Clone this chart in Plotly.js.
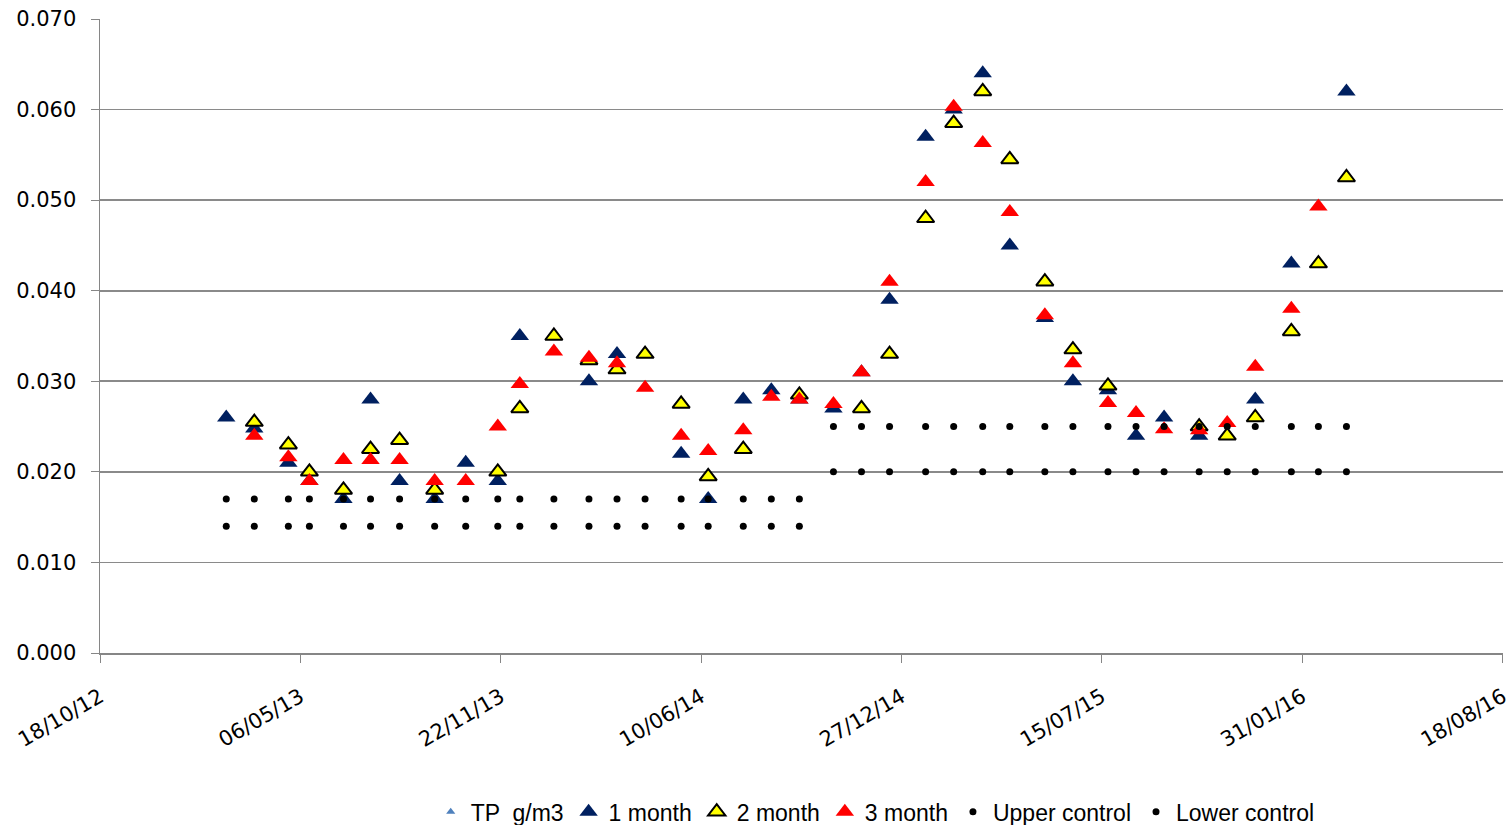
<!DOCTYPE html>
<html>
<head>
<meta charset="utf-8">
<script src="https://cdn.plot.ly/plotly-3.0.1.min.js"></script>
<style>html,body{margin:0;padding:0;background:#fff;}#chart{width:1509px;height:825px;}</style>
</head>
<body>
<div id="chart"></div>
<script>
const dates = ['2013-02-21','2013-03-21','2013-04-24','2013-05-15','2013-06-18','2013-07-15','2013-08-13','2013-09-17','2013-10-18','2013-11-19',
  '2013-12-11','2014-01-14','2014-02-18','2014-03-18','2014-04-15','2014-05-21','2014-06-17','2014-07-22','2014-08-19','2014-09-16',
  '2014-10-20','2014-11-17','2014-12-15','2015-01-20','2015-02-17','2015-03-18','2015-04-14','2015-05-19','2015-06-16','2015-07-21',
  '2015-08-18','2015-09-15','2015-10-20','2015-11-17','2015-12-15','2016-01-20','2016-02-16','2016-03-15'];
const tpDates = [dates[0]];
const tp = [null];
const month1 = [0.026,0.0248,0.021,0.019,0.017,0.028,0.019,0.017,0.021,0.019,
  0.035,0.035,0.030,0.033,0.033,0.022,0.017,0.028,0.029,0.028,
  0.027,0.031,0.039,0.057,0.060,0.064,0.045,0.037,0.030,0.029,
  0.024,0.026,0.024,0.024,0.028,0.043,0.043,0.062];
const month2 = [null,0.0255,0.023,0.020,0.018,0.0225,0.0235,0.018,null,0.020,
  0.027,0.035,0.0323,0.0313,0.033,0.0275,0.0195,0.0225,null,0.0285,
  null,0.027,0.033,0.048,0.0585,0.062,0.0545,0.041,0.0335,0.0295,
  null,null,0.025,0.024,0.026,0.0355,0.043,0.0525];
const month3 = [null,0.024,0.0216,0.019,0.0213,0.0213,0.0213,0.019,0.019,0.025,
  0.0297,0.0333,0.0326,0.032,0.0293,0.024,0.0223,0.0246,0.0283,0.028,
  0.0275,0.031,0.041,0.052,0.0603,0.0563,0.0487,0.0373,0.032,0.0276,
  0.0265,0.0247,0.0246,0.0254,0.0316,0.038,0.0493,null];
const upperControl = [0.017,0.017,0.017,0.017,0.017,0.017,0.017,0.017,0.017,0.017,
  0.017,0.017,0.017,0.017,0.017,0.017,0.017,0.017,0.017,0.017,
  0.025,0.025,0.025,0.025,0.025,0.025,0.025,0.025,0.025,0.025,
  0.025,0.025,0.025,0.025,0.025,0.025,0.025,0.025];
const lowerControl = [0.014,0.014,0.014,0.014,0.014,0.014,0.014,0.014,0.014,0.014,
  0.014,0.014,0.014,0.014,0.014,0.014,0.014,0.014,0.014,0.014,
  0.020,0.020,0.020,0.020,0.020,0.020,0.020,0.020,0.020,0.020,
  0.020,0.020,0.020,0.020,0.020,0.020,0.020,0.020];
const yTicks = [0,0.01,0.02,0.03,0.04,0.05,0.06,0.07];

const traces = [
  {name:'TP  g/m3', x:tpDates, y:tp, type:'scatter', mode:'markers',
   marker:{symbol:'triangle-up', size:8, color:'#4F81BD'}},
  {name:'1 month', x:dates, y:month1, type:'scatter', mode:'markers',
   marker:{symbol:'triangle-up', size:16, color:'#002060'}},
  {name:'2 month', x:dates, y:month2, type:'scatter', mode:'markers',
   marker:{symbol:'triangle-up', size:15, color:'#FFFF00', line:{color:'#000', width:2}}},
  {name:'3 month', x:dates, y:month3, type:'scatter', mode:'markers',
   marker:{symbol:'triangle-up', size:16, color:'#FF0000'}},
  {name:'Upper control', x:dates, y:upperControl, type:'scatter', mode:'markers',
   marker:{symbol:'circle', size:7, color:'#000'}},
  {name:'Lower control', x:dates, y:lowerControl, type:'scatter', mode:'markers',
   marker:{symbol:'circle', size:7, color:'#000'}}
];

const layout = {
  width:1509, height:825,
  margin:{l:100, r:6, t:19, b:172, autoexpand:false},
  paper_bgcolor:'#fff', plot_bgcolor:'#fff',
  font:{family:'DejaVu Sans, sans-serif', size:20, color:'#000'},
  showlegend:true,
  legend:{orientation:'h', xref:'container', yref:'container', x:0.58, xanchor:'center', y:0.016, yanchor:'middle',
    font:{family:'Liberation Sans Narrow, Liberation Sans, sans-serif', size:23, color:'#000'},
    itemwidth:30, traceorder:'normal', bgcolor:'rgba(0,0,0,0)'},
  xaxis:{type:'date', range:['2012-10-18','2016-08-18 06:00'], tick0:'2012-10-18', dtick:200*86400000,
    tickformat:'%d/%m/%y', tickangle:-30, showgrid:false, zeroline:false, automargin:false,
    ticklabeloverflow:'allow',
    showline:true, linecolor:'#868686', linewidth:1.5, ticks:'outside', ticklen:8, tickcolor:'#868686',
    ticklabelstandoff:14,
    tickfont:{family:'DejaVu Sans, sans-serif', size:21, color:'#000'}},
  yaxis:{range:[0,0.07], tickvals:yTicks, tickformat:'.3f', showgrid:true, gridcolor:'#8a8a8a', gridwidth:1.6,
    zeroline:false, showline:true, linecolor:'#868686', linewidth:1.5, ticks:'outside', ticklen:8, tickcolor:'#868686',
    automargin:false, ticklabelstandoff:10, ticklabeloverflow:'allow',
    tickfont:{family:'DejaVu Sans, sans-serif', size:21, color:'#000'}}
};
Plotly.newPlot('chart', traces, layout, {displayModeBar:false, staticPlot:true});
</script>
</body>
</html>
